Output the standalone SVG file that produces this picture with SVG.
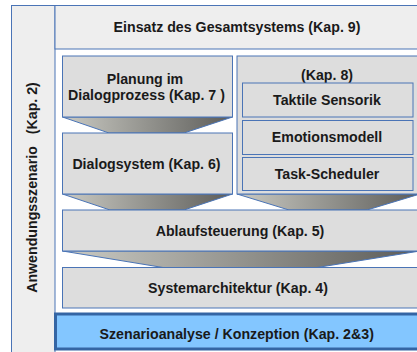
<svg xmlns="http://www.w3.org/2000/svg" width="417" height="352" viewBox="0 0 417 352">
  <defs>
    <linearGradient id="funnel" x1="0" y1="0" x2="1" y2="0">
      <stop offset="0" stop-color="#cacac3"/>
      <stop offset="1" stop-color="#5c5c59"/>
    </linearGradient>
    <style>
      .frame { fill: #eeeeee; stroke: #4a74b6; stroke-width: 1; }
      .box { fill: #dddddd; stroke: #4a74b6; stroke-width: 1; }
      .base { fill: #83c6ff; stroke: #3465a4; stroke-width: 3; }
      .funnel { fill: url(#funnel); stroke: #4a74b6; stroke-width: 1; }
      .t { font-family: "Liberation Sans", Arial, sans-serif; font-weight: bold; font-size: 14.2px; fill: #1a1a1a; text-anchor: middle; }
    </style>
  </defs>

  <rect width="417" height="352" fill="#ffffff"/>

  <!-- side label column -->
  <g id="anwendungsszenario">
    <rect class="frame" x="11.5" y="5.5" width="43.5" height="350"/>
    <text class="t" transform="translate(36.5,187.5) rotate(-90)">Anwendungsszenario<tspan dx="12">(Kap. 2)</tspan></text>
  </g>

  <!-- top layer -->
  <g id="einsatz">
    <rect class="frame" x="55" y="5.5" width="370" height="43.5"/>
    <text class="t" x="237" y="32">Einsatz des Gesamtsystems (Kap. 9)</text>
  </g>

  <!-- funnel connectors between layers -->
  <g id="connectors">
    <polygon class="funnel" points="62.5,117 232.5,117 184,133 109,133"/>
    <polygon class="funnel" points="62.5,194 232.5,194 184,210 110,210"/>
    <polygon class="funnel" points="237,194 420,194 367,210 289,210"/>
    <polygon class="funnel" points="62.5,251 420,251 317,267.5 163,267.5"/>
  </g>

  <g id="planung">
    <rect class="box" x="62.5" y="56" width="170" height="61"/>
    <text class="t" x="145" y="83.5">Planung im</text>
    <text class="t" x="146.5" y="100">Dialogprozess (Kap. 7 )</text>
  </g>

  <g id="dialogsystem">
    <rect class="box" x="62.5" y="133" width="170" height="61"/>
    <text class="t" x="146.5" y="168.5">Dialogsystem (Kap. 6)</text>
  </g>

  <g id="kap8">
    <rect class="box" x="237" y="56" width="185" height="138"/>
    <text class="t" x="327" y="79.5">(Kap. 8)</text>
  </g>

  <g id="taktile-sensorik">
    <rect class="box" x="242.5" y="83" width="170.5" height="34"/>
    <text class="t" x="327" y="105">Taktile Sensorik</text>
  </g>

  <g id="emotionsmodell">
    <rect class="box" x="242.5" y="120.5" width="170.5" height="34"/>
    <text class="t" x="327" y="141.7">Emotionsmodell</text>
  </g>

  <g id="task-scheduler">
    <rect class="box" x="242.5" y="157.5" width="170.5" height="33"/>
    <text class="t" x="327" y="178.5">Task-Scheduler</text>
  </g>

  <g id="ablaufsteuerung">
    <rect class="box" x="62.5" y="210" width="360" height="41"/>
    <text class="t" x="240" y="235.7">Ablaufsteuerung (Kap. 5)</text>
  </g>

  <g id="systemarchitektur">
    <rect class="box" x="62.5" y="267.5" width="360" height="40.5"/>
    <text class="t" x="238" y="293.3">Systemarchitektur (Kap. 4)</text>
  </g>

  <g id="szenarioanalyse">
    <rect class="base" x="55.5" y="314" width="370" height="35"/>
    <text class="t" x="236.7" y="339">Szenarioanalyse / Konzeption (Kap. 2&amp;3)</text>
  </g>
</svg>
